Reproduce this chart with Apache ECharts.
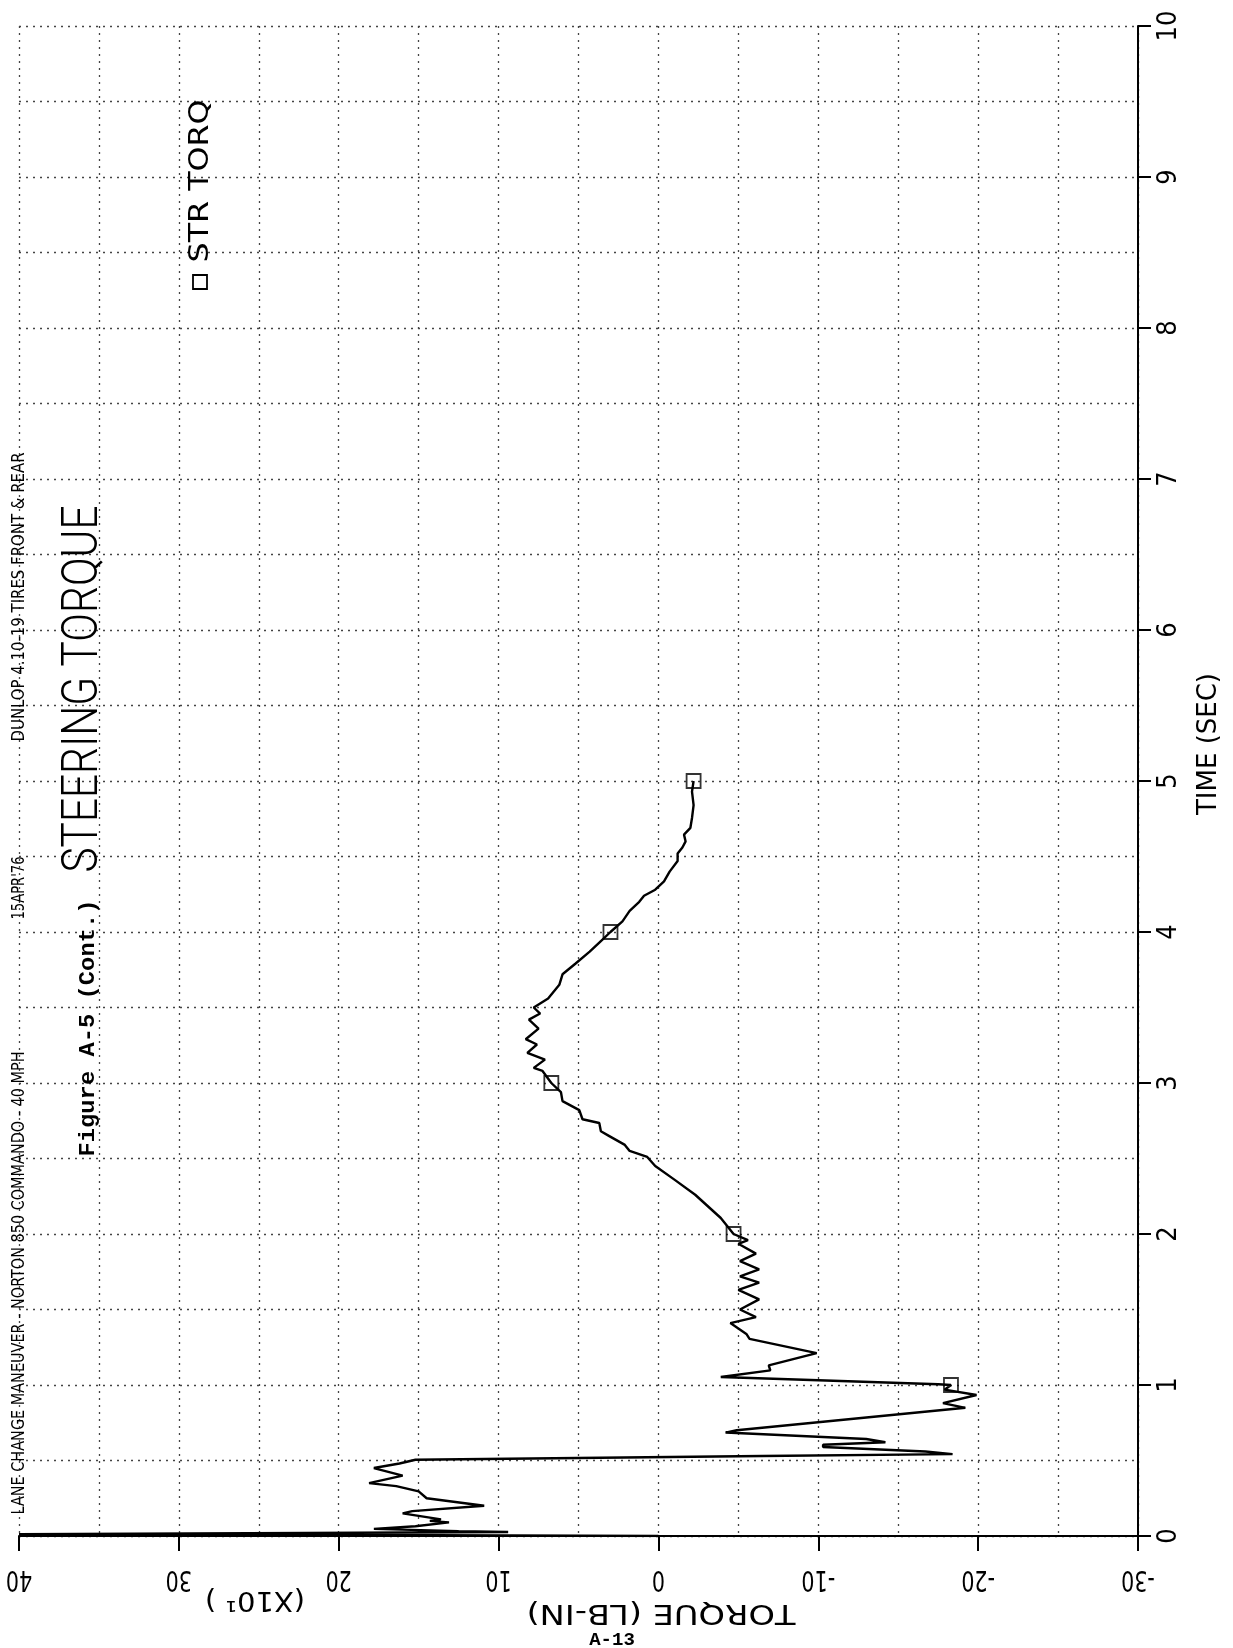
<!DOCTYPE html>
<html><head><meta charset="utf-8">
<script src="https://cdn.jsdelivr.net/npm/echarts@6/dist/echarts.min.js"></script>
<style>html,body{margin:0;padding:0;background:#fff}#chart{width:1233px;height:1648px}</style>
</head><body><div id="chart"></div>
<script>
// ---- data (time in seconds, torque in LB-IN x10) ----
const TIME_S = [
  0.000, 0.006, 0.012, 0.020, 0.026, 0.032, 0.047, 0.065, 0.090, 0.100,
  0.110, 0.150, 0.165, 0.200, 0.250, 0.295, 0.330, 0.350, 0.400, 0.450,
  0.480, 0.505, 0.530, 0.542, 0.560, 0.589, 0.604, 0.621, 0.642, 0.685,
  0.700, 0.849, 0.880, 0.934, 0.969, 1.000, 1.005, 1.053, 1.097, 1.130,
  1.211, 1.305, 1.338, 1.410, 1.449, 1.500, 1.567, 1.630, 1.678, 1.720,
  1.766, 1.820, 1.870, 1.935, 1.960, 2.000, 2.106, 2.260, 2.360, 2.450,
  2.510, 2.550, 2.590, 2.650, 2.680, 2.735, 2.760, 2.820, 2.880, 2.940,
  3.000, 3.080, 3.100, 3.155, 3.200, 3.255, 3.290, 3.360, 3.420, 3.460,
  3.500, 3.560, 3.650, 3.720, 3.790, 3.870, 3.940, 4.000, 4.070, 4.140,
  4.200, 4.240, 4.280, 4.335, 4.400, 4.470, 4.520, 4.560, 4.600, 4.645,
  4.690, 4.755, 4.840, 4.930, 5.000
];
const TORQUE_X10 = [
  0.0, 14.0, 40.0, 22.0, 9.4, 12.5, 17.8, 15.2, 13.1, 14.3,
  13.6, 16.0, 15.4, 10.9, 14.5, 15.0, 16.4, 18.1, 16.0, 17.8,
  16.2, 15.2, -6.5, -18.4, -16.7, -10.3, -10.3, -14.2, -13.0, -4.2,
  -4.9, -19.2, -17.8, -19.9, -17.9, -18.3, -17.5, -3.9, -7.0, -6.9,
  -9.9, -5.7, -5.5, -4.5, -6.1, -5.1, -6.3, -5.0, -6.3, -5.1,
  -6.3, -5.1, -6.1, -5.0, -5.6, -4.7, -3.9, -2.3, -1.0, 0.2,
  0.7, 1.8, 2.1, 3.1, 3.6, 3.7, 4.75, 4.95, 6.0, 6.1,
  6.7, 7.25, 7.8, 7.1, 8.2, 7.6, 8.3, 7.5, 8.1, 7.4,
  7.8, 6.9, 6.2, 6.0, 5.2, 4.3, 3.6, 3.0, 2.25, 1.8,
  1.2, 0.9, 0.2, -0.35, -0.7, -1.2, -1.2, -1.5, -1.7, -1.6,
  -2.0, -2.1, -2.2, -2.1, -2.2
];
const MARKER_TIMES = [1, 2, 3, 4, 5];
const TORQUE_TICKS = [40, 30, 20, 10, 0, -10, -20, -30];

const TITLE = 'STEERING TORQUE';
const HEADER_RUN = 'LANE CHANGE MANEUVER - NORTON 850 COMMANDO - 40 MPH';
const HEADER_DATE = "15APR'76";
const HEADER_TIRES = 'DUNLOP 4.10-19 TIRES FRONT & REAR';
const FIGURE_LABEL = 'Figure A-5 (Cont.)';
const LEGEND_LABEL = 'STR TORQ';
const X_NAME = 'TORQUE (LB-IN)';
const X_SCALE = '(X10\u00b9 )';
const Y_NAME = 'TIME (SEC)';
const PAGE_LABEL = 'A-13';

// ---- helpers ----
const PLOT_FONT = "'Liberation Sans Narrow', 'DejaVu Sans Condensed', 'Liberation Sans', sans-serif";
const mctx = document.createElement('canvas').getContext('2d');
function fitScale(text, font, target) {
  mctx.font = font;
  const w = mctx.measureText(text).width;
  return w > 0 ? target / w : 1;
}
function rotText(text, x, y, font, len, rot, fixedScale) {
  const sx = fixedScale ? fixedScale : (len ? fitScale(text, font, len) : 1);
  return {
    type: 'text', x: x, y: y, rotation: rot, scaleX: sx, z: 20,
    style: { text: text, font: font, fill: '#000', align: 'center', verticalAlign: 'middle' }
  };
}

const curve = TIME_S.map((t, i) => [TORQUE_X10[i], t]);
const markers = MARKER_TIMES.map(t => {
  const i = TIME_S.indexOf(t);
  return [TORQUE_X10[i], t];
});

const gridStyle = { type: [2, 5], color: '#444', width: 1.3 };
const H = Math.PI / 2;

const chart = echarts.init(document.getElementById('chart'), null, { renderer: 'canvas' });
chart.setOption({
  animation: false,
  backgroundColor: '#fff',
  grid: { left: 19, top: 26, right: 95, bottom: 112, containLabel: false, outerBoundsMode: 'none' },
  xAxis: {
    type: 'value', min: -30, max: 40, interval: 10, inverse: true, position: 'bottom',
    axisLine: { show: true, onZero: false, lineStyle: { color: '#000', width: 2 } },
    axisTick: { show: true, length: 15, lineStyle: { color: '#000', width: 2 } },
    axisLabel: { show: false },
    splitLine: { show: true, lineStyle: gridStyle },
    minorTick: { show: false, splitNumber: 2 },
    minorSplitLine: { show: true, lineStyle: gridStyle }
  },
  yAxis: {
    type: 'value', min: 0, max: 10, interval: 1, position: 'right',
    axisLine: { show: true, onZero: false, lineStyle: { color: '#000', width: 2 } },
    axisTick: { show: true, length: 13, lineStyle: { color: '#000', width: 2 } },
    axisLabel: { rotate: 90, margin: 17, fontSize: 27, fontFamily: PLOT_FONT, color: '#000' },
    splitLine: { show: true, lineStyle: gridStyle },
    minorTick: { show: false, splitNumber: 2 },
    minorSplitLine: { show: true, lineStyle: gridStyle }
  },
  series: [
    {
      type: 'line', data: curve, showSymbol: false, symbol: 'none', clip: true,
      lineStyle: { color: '#000', width: 2.4 }, z: 3
    },
    {
      type: 'scatter', data: markers, symbol: 'rect', symbolSize: 14,
      itemStyle: { color: 'rgba(0,0,0,0)', borderColor: '#000', borderWidth: 1.8 }, z: 4
    }
  ]
});

// torque tick labels: upside down, placed through the axis scale
const tickFont = "28px " + PLOT_FONT;
const axisY = chart.convertToPixel({ yAxisIndex: 0 }, 0);
const tickLabels = TORQUE_TICKS.map(v => {
  const px = chart.convertToPixel({ xAxisIndex: 0 }, v);
  return rotText(String(v), px, axisY + 42, tickFont, 0, Math.PI, 0.82);
});

chart.setOption({
  graphic: tickLabels.concat([
    rotText(HEADER_RUN, 20, 1283, "17px " + PLOT_FONT, 463, H),
    rotText(HEADER_DATE, 20, 888, "17px " + PLOT_FONT, 63, H),
    rotText(HEADER_TIRES, 20, 597, "17px " + PLOT_FONT, 289, H),
    rotText(FIGURE_LABEL, 88, 1028, "bold 22px 'Liberation Mono', monospace", 257, H),
    rotText(TITLE, 84, 689, "300 50px Roboto, 'Liberation Sans', sans-serif", 367, H),
    {
      type: 'rect', x: 193, y: 275, z: 20,
      shape: { width: 14, height: 14 },
      style: { fill: 'rgba(0,0,0,0)', stroke: '#000', lineWidth: 1.8 }
    },
    rotText(LEGEND_LABEL, 201, 181, "26px " + PLOT_FONT, 163, H),
    rotText(Y_NAME, 1209, 744, "27px " + PLOT_FONT, 142, H),
    rotText(X_NAME, 661, 1612, "27px " + PLOT_FONT, 269, Math.PI),
    rotText(X_SCALE, 255, 1599, "27px " + PLOT_FONT, 100, Math.PI),
    rotText(PAGE_LABEL, 612, 1640, "bold 19px 'Liberation Mono', monospace", 0, 0)
  ])
});
</script></body></html>
